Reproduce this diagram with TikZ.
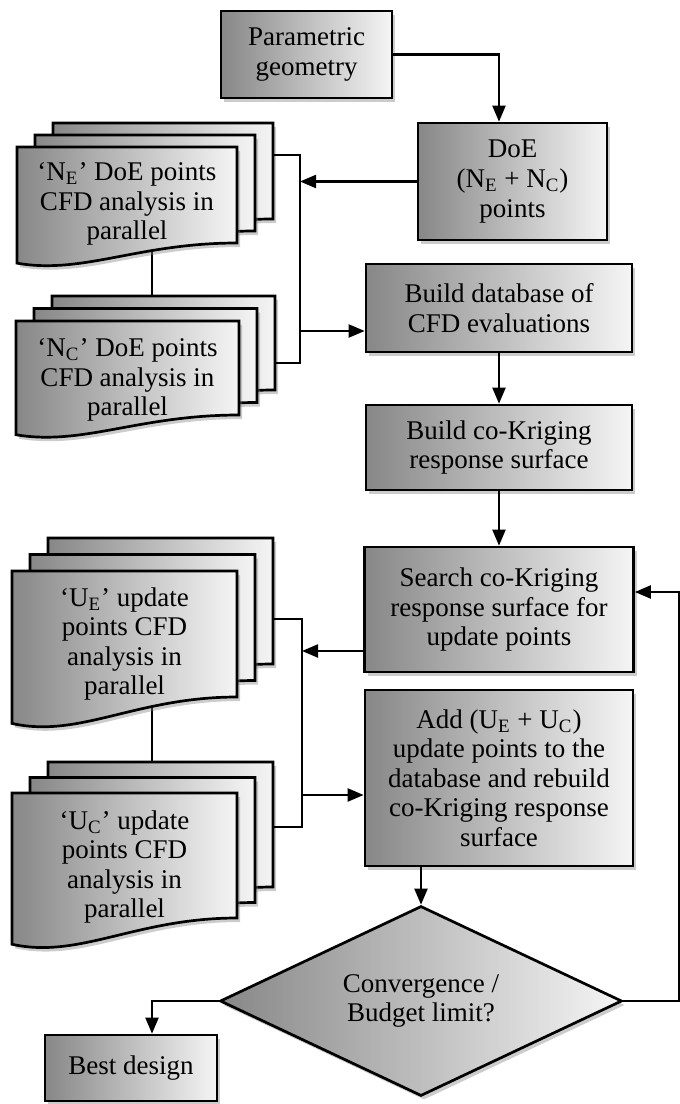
\documentclass[tikz,border=0pt]{standalone}
\usepackage{fontspec}
\setmainfont{Liberation Serif}
\usepackage{tikz}
\usetikzlibrary{shapes.geometric,shadows,arrows.meta}
\tikzstyle{flowbox} = [draw=black, line width=1.35pt, rectangle, align=center,
left color=black!47, right color=black!4, inner sep=2pt,
drop shadow={shadow xshift=1.5pt, shadow yshift=-2pt, opacity=0.4},
font=\fontsize{13.5}{14.8}\selectfont]
\tikzstyle{decision} = [flowbox, diamond, aspect=2.1]
\tikzstyle{sheet} = [draw=black, line width=1.35pt, left color=black!47, right color=black!4,
drop shadow={shadow xshift=1.5pt, shadow yshift=-2pt, opacity=0.4}]
\tikzstyle{sheettext} = [align=center, font=\fontsize{13.5}{14.8}\selectfont]
\tikzstyle{arrow} = [line width=1.1pt, -{Triangle[length=8pt,width=6.5pt]}]
\tikzstyle{link} = [line width=0.7pt]
% one page with a wavy bottom: x, y, width, height
\newcommand{\docsheet}[4]{%
\path[sheet] (#1,#2) -- ++(#3,0) -- ++(0,#4)
.. controls +(-0.45*#3,0) and +(0.3*#3,0.12*#4) .. ++(-#3,0.21*#4) -- cycle;}
% three pages: front x, front y, width, height, step
\newcommand{\docstack}[5]{%
\docsheet{#1+36}{#2-2*#5}{#3}{#4}
\docsheet{#1+18}{#2-#5}{#3}{#4}
\docsheet{#1}{#2}{#3}{#4}}
\begin{document}
\begin{tikzpicture}[x=0.5pt,y=-0.5pt]
\useasboundingbox (0,0) rectangle (680,1104);
		% links between the stacks
		\coordinate (neB) at (152,250);
		\coordinate (ncT) at (152,300);
		\coordinate (ueB) at (152,705);
		\coordinate (ucT) at (152,766);
		\draw[link] (neB) -- (ncT);
		\draw[link] (ueB) -- (ucT);
		
		\docstack{17}{147}{220}{96}{12}
		\docstack{16}{321}{223}{94}{12.5}
		\docstack{12}{571}{225}{126}{16.5}
		\docstack{12}{793}{225}{125}{15.5}
		
		\node[sheettext] (ne) at (127,204) {`N\textsubscript{E}' DoE points\\CFD analysis in\\parallel};
		\node[sheettext] (nc) at (127.5,380) {`N\textsubscript{C}' DoE points\\CFD analysis in\\parallel};
		\node[sheettext] (ue) at (124.5,644) {`U\textsubscript{E}' update\\points CFD\\analysis in\\parallel};
		\node[sheettext] (uc) at (124.5,867) {`U\textsubscript{C}' update\\points CFD\\analysis in\\parallel};
		
		\node[flowbox, minimum width=85.5pt, minimum height=43.5pt] (geom) at (306.5,54.5) {Parametric\\geometry};
		\node[flowbox, minimum width=94.5pt, minimum height=58.5pt] (doe) at (512.5,181.5) {DoE\\(N\textsubscript{E} + N\textsubscript{C})\\points};
		\node[flowbox, minimum width=133pt, minimum height=44pt] (db) at (499,308) {Build database of\\CFD evaluations};
		\node[flowbox, minimum width=133pt, minimum height=42.5pt] (krig) at (499,447.5) {Build co-Kriging\\response surface};
		\node[flowbox, minimum width=134.5pt, minimum height=62.5pt] (search) at (499,609.5) {Search co-Kriging\\response surface for\\update points};
		\node[flowbox, minimum width=134pt, minimum height=88pt] (add) at (499,778) {Add (U\textsubscript{E} + U\textsubscript{C})\\update points to the\\database and rebuild\\co-Kriging response\\surface};
		\node[decision, minimum width=201pt, minimum height=95pt] (dec) at (421,1001) {Convergence /\\Budget limit?};
		\node[flowbox, minimum width=86pt, minimum height=33pt] (best) at (131,1068) {Best design};
		
		% brackets on the stacks
		\coordinate (neR) at (273,155);
		\coordinate (ncR) at (275,363);
		\coordinate (nbus) at (300,155);
		\draw[link] (neR) -- (nbus) |- (ncR);
		\coordinate (ueR) at (273,619);
		\coordinate (ucR) at (273,827);
		\coordinate (ubus) at (302,619);
		\draw[link] (ueR) -- (ubus) |- (ucR);
		
		\coordinate (dbin) at ([yshift=-11.5pt]db.west);
		\coordinate (srout) at ([yshift=-20.75pt]search.west);
		\coordinate (addin) at ([yshift=-8.5pt]add.west);
		\coordinate (srin) at ([yshift=8.75pt]search.east);
		\coordinate (bestin) at ([xshift=10.5pt]best.north);
		
		\draw[arrow] (geom.east) -| (db.north |- doe.north);
		\draw[arrow] (doe.west) -- (doe.west -| nbus);
		\draw[arrow] (nbus |- dbin) -- (dbin);
		\draw[arrow] (db.south) -- (krig.north);
		\draw[arrow] (krig.south) -- (search.north);
		\draw[arrow] (srout) -- (srout -| ubus);
		\draw[arrow] (addin -| ubus) -- (addin);
		\draw[arrow] (add.south -| dec.north) -- (dec.north);
		\draw[arrow] (dec.west) -| (bestin);
		\draw[arrow] (dec.east) -- ++(56,0) |- (srin);
\end{tikzpicture}
\end{document}
